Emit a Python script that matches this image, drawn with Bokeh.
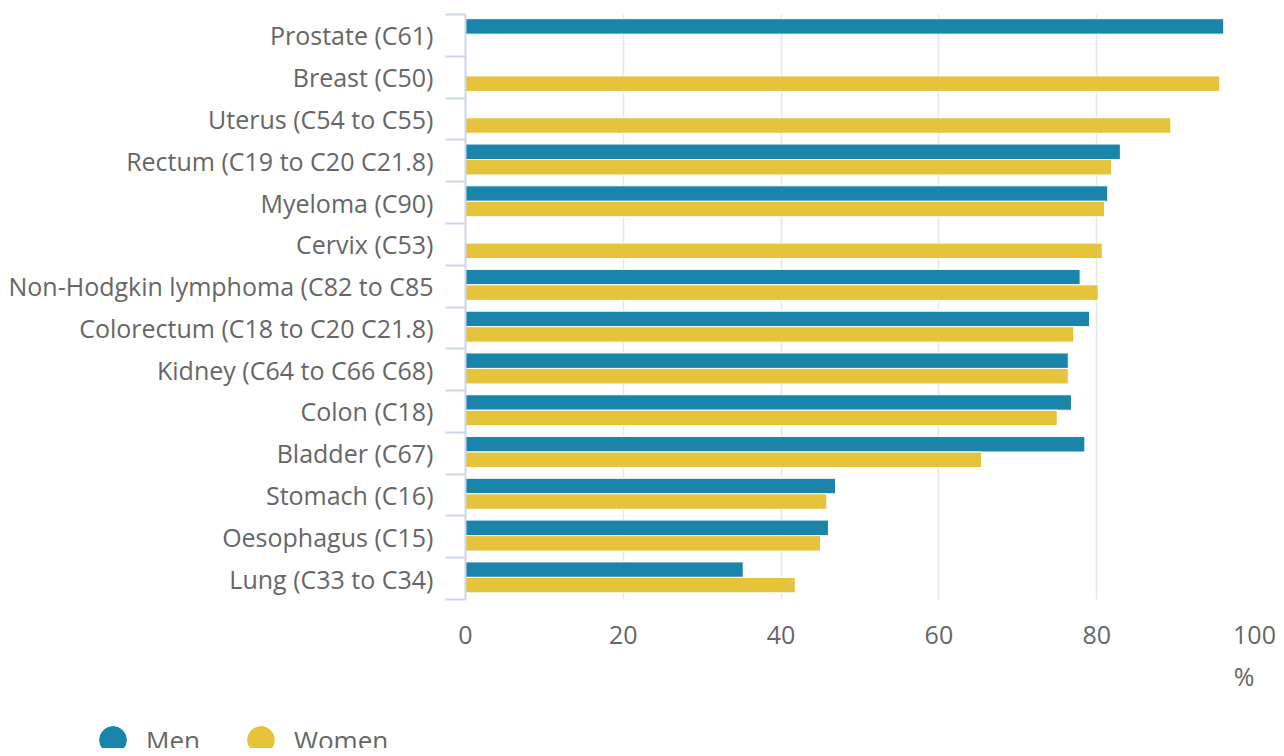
from bokeh.plotting import figure
from bokeh.layouts import column
from bokeh.models import Range1d, FixedTicker, Legend, LegendItem, Title
from bokeh.embed import file_html
from bokeh.resources import INLINE

categories = ["Prostate (C61)", "Breast (C50)", "Uterus (C54 to C55)",
              "Rectum (C19 to C20 C21.8)", "Myeloma (C90)", "Cervix (C53)",
              "Non-Hodgkin lymphoma (C82 to C85", "Colorectum (C18 to C20 C21.8)",
              "Kidney (C64 to C66 C68)", "Colon (C18)", "Bladder (C67)",
              "Stomach (C16)", "Oesophagus (C15)", "Lung (C33 to C34)"]
men = [96.1, None, None, 83.0, 81.4, None, 77.9, 79.1, 76.4, 76.8, 78.5, 46.9, 46.0, 35.2]
women = [None, 95.6, 89.4, 81.9, 81.0, 80.7, 80.2, 77.1, 76.4, 75.0, 65.4, 45.8, 45.0, 41.8]
x_ticks = [0, 20, 40, 60, 80, 100]
series_names = ["Men", "Women"]
unit_label = "%"
colors = ["#1b84ab", "#e5c33a"]

FONT = "Open Sans"
TXT = "#666666"
W = 1276
H_MAIN = 712
H_LEG = 36

n = len(categories)
centers = [i + 0.5 for i in range(n)]

p = figure(width=W, height=H_MAIN, output_backend="svg", toolbar_location=None,
           x_range=Range1d(0, 100), y_range=Range1d(n, 0),
           min_border_left=465, min_border_right=W - 1254, min_border_top=14,
           min_border_bottom=H_MAIN - 599)
p.outline_line_color = None
p.background_fill_color = "white"
p.frame_align = False

# bars
offsets = [-0.215, 0.156]
bar_h = 0.37
for vals, off, col in zip([men, women], offsets, colors):
    ys = [c + off for c, v in zip(centers, vals) if v is not None]
    xs = [v for v in vals if v is not None]
    p.hbar(y=ys, left=0, right=xs, height=bar_h, fill_color=col,
           line_color="white", line_width=1)

# y axis
ya = p.yaxis[0]
ya.ticker = FixedTicker(ticks=centers, minor_ticks=list(range(n + 1)))
ya.major_label_overrides = {c: lab for c, lab in zip(centers, categories)}
ya.major_tick_line_color = None
ya.major_tick_out = 0
ya.major_tick_in = 0
ya.minor_tick_out = 20
ya.minor_tick_in = 0
ya.minor_tick_line_color = "#ccd6eb"
ya.minor_tick_line_width = 2
ya.axis_line_color = "#ccd6eb"
ya.axis_line_width = 2
ya.major_label_standoff = 12
ya.major_label_text_font = FONT
ya.major_label_text_font_size = "25px"
ya.major_label_text_color = TXT

# x axis
xa = p.xaxis[0]
xa.ticker = FixedTicker(ticks=x_ticks)
xa.axis_line_color = None
xa.major_tick_line_color = None
xa.minor_tick_line_color = None
xa.major_tick_out = 0
xa.major_tick_in = 0
xa.major_label_standoff = 26
xa.major_label_text_font = FONT
xa.major_label_text_font_size = "25px"
xa.major_label_text_color = TXT

p.ygrid.grid_line_color = None
p.xgrid.grid_line_color = "#e6e6e6"
p.xgrid.grid_line_width = 1.5

# unit label under the axis, right aligned
p.add_layout(Title(text=unit_label, align="right", text_font=FONT,
                   text_font_size="25px", text_font_style="normal",
                   text_color=TXT, standoff=21), "below")

# legend strip
lf = figure(width=W, height=H_LEG, output_backend="svg", toolbar_location=None,
            x_range=Range1d(0, W), y_range=Range1d(0, H_LEG),
            x_axis_location=None, y_axis_location=None, min_border=0)
lf.outline_line_color = None
lf.xgrid.grid_line_color = None
lf.ygrid.grid_line_color = None
lf.frame_align = False

leg_r = []
for col in colors:
    r = lf.scatter(x=[-100], y=[-100], marker="circle", size=10,
                   fill_color=col, line_color=col)
    leg_r.append(r)

legend = Legend(items=[LegendItem(label=nm, renderers=[r]) for nm, r in zip(series_names, leg_r)],
                location=(79, -25), orientation="horizontal",
                glyph_width=67, glyph_height=67, label_standoff=-2, spacing=27,
                padding=0, margin=0, border_line_color=None,
                background_fill_alpha=0,
                label_text_font=FONT, label_text_font_size="26px",
                label_text_color=TXT)
lf.add_layout(legend, "center")

layout = column(p, lf, spacing=0)
open("out.html", "w").write(file_html(layout, INLINE))
